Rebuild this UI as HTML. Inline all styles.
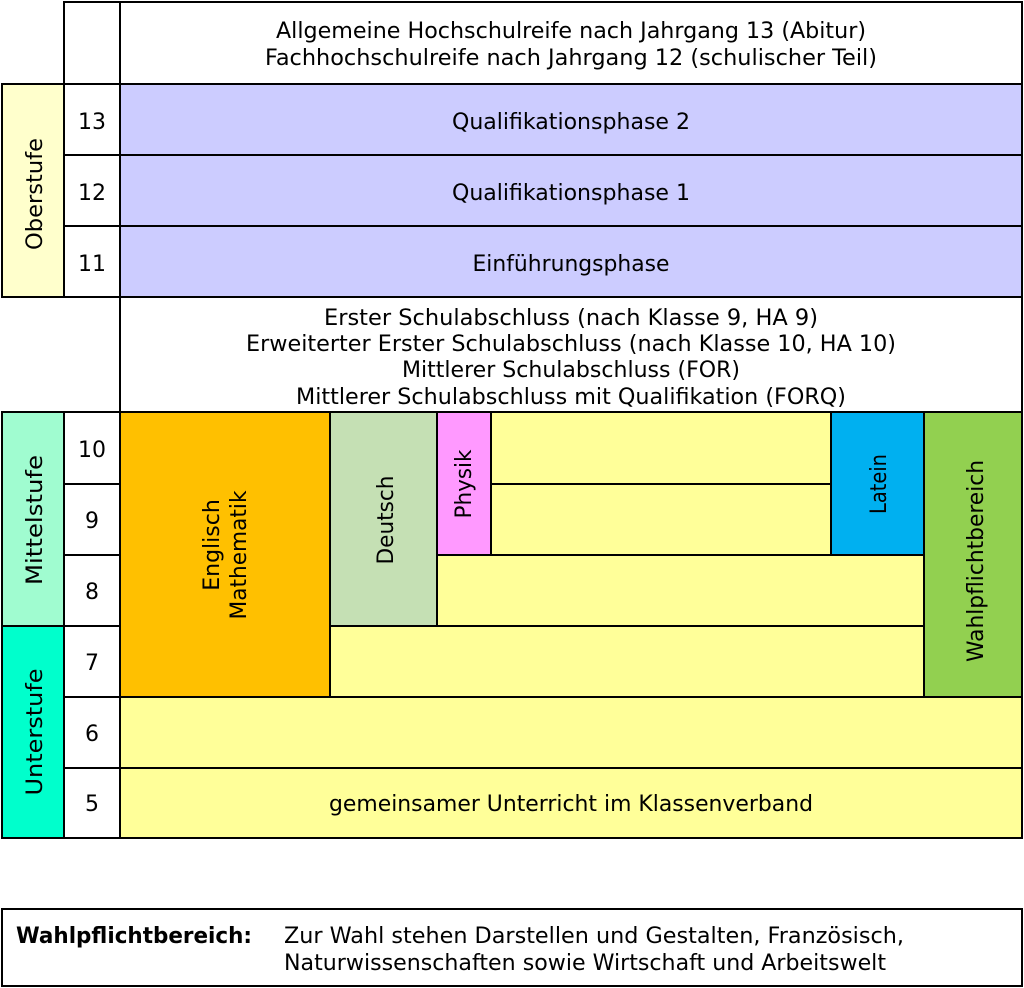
<!DOCTYPE html>
<html><head><meta charset="utf-8"><style>
html,body{margin:0;padding:0;background:#fff;}
svg{display:block;}
</style></head><body>
<svg width="1024" height="988" viewBox="0 0 1024 988" xmlns="http://www.w3.org/2000/svg" font-family="DejaVu Sans, Liberation Sans, sans-serif" font-size="23">
<g stroke="#000" stroke-width="2">
<rect x="64" y="2" width="56" height="82" fill="#fff"/>
<rect x="120" y="2" width="902" height="82" fill="#fff"/>
<rect x="2" y="84" width="62" height="213" fill="#ffffcc"/>
<rect x="64" y="84" width="56" height="71" fill="#fff"/>
<rect x="64" y="155" width="56" height="71" fill="#fff"/>
<rect x="64" y="226" width="56" height="71" fill="#fff"/>
<rect x="120" y="84" width="902" height="71" fill="#ccccff"/>
<rect x="120" y="155" width="902" height="71" fill="#ccccff"/>
<rect x="120" y="226" width="902" height="71" fill="#ccccff"/>
<rect x="120" y="297" width="902" height="115" fill="#fff"/>
<rect x="2" y="412" width="62" height="214" fill="#a0fcd0"/>
<rect x="2" y="626" width="62" height="212" fill="#00ffcc"/>
<rect x="64" y="412" width="56" height="72" fill="#fff"/>
<rect x="64" y="484" width="56" height="71" fill="#fff"/>
<rect x="64" y="555" width="56" height="71" fill="#fff"/>
<rect x="64" y="626" width="56" height="71" fill="#fff"/>
<rect x="64" y="697" width="56" height="71" fill="#fff"/>
<rect x="64" y="768" width="56" height="70" fill="#fff"/>
<rect x="120" y="697" width="902" height="71" fill="#ffff99"/>
<rect x="120" y="768" width="902" height="70" fill="#ffff99"/>
<rect x="330" y="626" width="594" height="71" fill="#ffff99"/>
<rect x="437" y="555" width="487" height="71" fill="#ffff99"/>
<rect x="491" y="412" width="340" height="72" fill="#ffff99"/>
<rect x="491" y="484" width="340" height="71" fill="#ffff99"/>
<rect x="120" y="412" width="210" height="285" fill="#ffc000"/>
<rect x="330" y="412" width="107" height="214" fill="#c5e0b4"/>
<rect x="437" y="412" width="54" height="143" fill="#ff99ff"/>
<rect x="831" y="412" width="93" height="143" fill="#00b0f0"/>
<rect x="924" y="412" width="98" height="285" fill="#92d050"/>
<rect x="2" y="909" width="1020" height="77" fill="#fff"/>
</g>
<g text-anchor="middle" fill="#000" font-size="22">
<text x="571" y="38" textLength="590" lengthAdjust="spacingAndGlyphs">Allgemeine Hochschulreife nach Jahrgang 13 (Abitur)</text>
<text x="571" y="65" textLength="612" lengthAdjust="spacingAndGlyphs">Fachhochschulreife nach Jahrgang 12 (schulischer Teil)</text>
<text x="571" y="129" textLength="238" lengthAdjust="spacingAndGlyphs">Qualifikationsphase 2</text>
<text x="571" y="200" textLength="238" lengthAdjust="spacingAndGlyphs">Qualifikationsphase 1</text>
<text x="571" y="271" textLength="197" lengthAdjust="spacingAndGlyphs">Einführungsphase</text>
<text x="571" y="325" textLength="494" lengthAdjust="spacingAndGlyphs">Erster Schulabschluss (nach Klasse 9, HA 9)</text>
<text x="571" y="351" textLength="650" lengthAdjust="spacingAndGlyphs">Erweiterter Erster Schulabschluss (nach Klasse 10, HA 10)</text>
<text x="571" y="377" textLength="338" lengthAdjust="spacingAndGlyphs">Mittlerer Schulabschluss (FOR)</text>
<text x="571" y="404" textLength="550" lengthAdjust="spacingAndGlyphs">Mittlerer Schulabschluss mit Qualifikation (FORQ)</text>
<text x="571" y="811" textLength="484" lengthAdjust="spacingAndGlyphs">gemeinsamer Unterricht im Klassenverband</text>
<text x="92" y="129" textLength="28" lengthAdjust="spacingAndGlyphs">13</text>
<text x="92" y="200" textLength="28" lengthAdjust="spacingAndGlyphs">12</text>
<text x="92" y="271" textLength="28" lengthAdjust="spacingAndGlyphs">11</text>
<text x="92" y="457" textLength="28" lengthAdjust="spacingAndGlyphs">10</text>
<text x="92" y="528">9</text>
<text x="92" y="599">8</text>
<text x="92" y="670">7</text>
<text x="92" y="741">6</text>
<text x="92" y="811">5</text>
<text transform="translate(42,194) rotate(-90)" textLength="112" lengthAdjust="spacingAndGlyphs">Oberstufe</text>
<text transform="translate(42,520) rotate(-90)" textLength="130" lengthAdjust="spacingAndGlyphs">Mittelstufe</text>
<text transform="translate(42,732) rotate(-90)" textLength="127" lengthAdjust="spacingAndGlyphs">Unterstufe</text>
<text transform="translate(219,545) rotate(-90)">Englisch</text>
<text transform="translate(246,555) rotate(-90)" textLength="129" lengthAdjust="spacingAndGlyphs">Mathematik</text>
<text transform="translate(393,520) rotate(-90)" textLength="89" lengthAdjust="spacingAndGlyphs">Deutsch</text>
<text transform="translate(471,484) rotate(-90)" textLength="69" lengthAdjust="spacingAndGlyphs">Physik</text>
<text transform="translate(886,484) rotate(-90)" textLength="60" lengthAdjust="spacingAndGlyphs">Latein</text>
<text transform="translate(983,561) rotate(-90)" textLength="202" lengthAdjust="spacingAndGlyphs">Wahlpflichtbereich</text>
</g>
<text x="16" y="943" font-size="22" font-weight="bold" textLength="236" lengthAdjust="spacingAndGlyphs">Wahlpflichtbereich:</text>
<text x="284" y="943" font-size="22" textLength="620" lengthAdjust="spacingAndGlyphs">Zur Wahl stehen Darstellen und Gestalten, Französisch,</text>
<text x="284" y="970" font-size="22" textLength="602" lengthAdjust="spacingAndGlyphs">Naturwissenschaften sowie Wirtschaft und Arbeitswelt</text>
</svg>
</body></html>
